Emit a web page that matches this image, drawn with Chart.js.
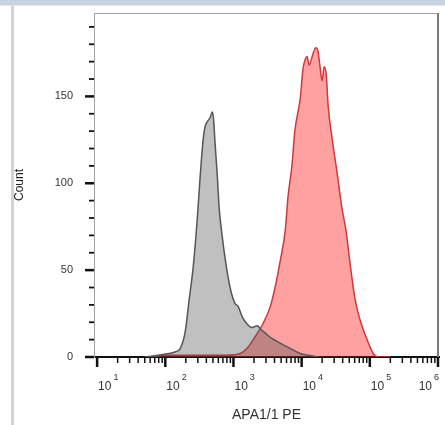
<!DOCTYPE html>
<html>
<head>
<meta charset="utf-8">
<script src="https://cdn.jsdelivr.net/npm/chart.js@4.4.1/dist/chart.umd.min.js"></script>
<style>
  body { margin: 0; background: #fff; }
  #wrap { position: relative; width: 445px; height: 425px; overflow: hidden; }
  #band { position: absolute; left: 0; top: 0; width: 445px; height: 5px; background: #c9d2e0; }
  #band2 { position: absolute; left: 0; top: 5px; width: 445px; height: 1px; background: #e4e4e4; }
  #side { position: absolute; left: 11px; top: 6px; width: 3px; height: 419px; background: #d3d3d3; }
  canvas { position: absolute; left: 0; top: 0; }
</style>
</head>
<body>
<div id="wrap">
  <canvas id="histChart" width="445" height="425"></canvas>
  <div id="band"></div>
  <div id="band2"></div>
  <div id="side"></div>
</div>
<script>
// histogram data, x given as log10 of APA1/1 PE intensity
const grayExp = [1.70, 1.90, 2.05, 2.15, 2.22, 2.29, 2.35, 2.41, 2.47, 2.51, 2.55, 2.58, 2.61, 2.66, 2.69, 2.71, 2.73, 2.76, 2.79, 2.83, 2.88, 2.95, 3.02, 3.07, 3.13, 3.20, 3.27, 3.35, 3.40, 3.46, 3.55, 3.64, 3.73, 3.83, 3.98, 4.10, 4.25]
const grayCount = [0, 1, 2, 3, 5, 14, 33, 52, 80, 103, 123, 132, 135, 138, 141, 136, 123, 106, 86, 71, 56, 40, 31, 29, 23, 19, 17, 18, 16, 14, 11, 9, 7, 5, 2, 1, 0]

const redExp = [1.80, 1.95, 2.50, 2.90, 3.10, 3.20, 3.29, 3.43, 3.54, 3.61, 3.68, 3.76, 3.80, 3.86, 3.90, 3.98, 4.02, 4.05, 4.08, 4.11, 4.17, 4.21, 4.24, 4.27, 4.30, 4.33, 4.36, 4.39, 4.45, 4.52, 4.59, 4.65, 4.71, 4.78, 4.86, 4.96, 5.05, 5.12, 5.30]
const redCount = [0, 1, 1, 1, 2, 5, 10, 19, 29, 40, 54, 73, 92, 111, 130, 149, 166, 171, 173, 168, 175, 178, 176, 167, 159, 167, 163, 144, 125, 106, 86, 73, 54, 34, 21, 10, 2, 0, 0]

// axis ticks
const xDecades = [1, 2, 3, 4, 5, 6]
const xMinorSteps = [2, 3, 4, 5, 6, 7, 8, 9]
const yTicks = [0, 10, 20, 30, 40, 50, 60, 70, 80, 90, 100, 110, 120, 130, 140, 150, 160, 170, 180, 190]
const yLabelled = [0, 50, 100, 150]

const toPoints = (exps, counts) => exps.map((e, i) => ({ x: Math.pow(10, e), y: counts[i] }))

// ticks and 10^n labels drawn from the scales
const axisMarks = {
  id: 'axisMarks',
  afterDraw(chart) {
    const { ctx, chartArea: a, scales: { x, y } } = chart
    ctx.save()

    // frame top and right
    ctx.strokeStyle = '#a0a0a0'
    ctx.lineWidth = 1
    ctx.beginPath()
    ctx.moveTo(a.left, a.top + 0.5)
    ctx.lineTo(a.right, a.top + 0.5)
    ctx.stroke()
    ctx.strokeStyle = '#7a7a7a'
    ctx.lineWidth = 2
    ctx.beginPath()
    ctx.moveTo(a.right - 1, a.top)
    ctx.lineTo(a.right - 1, a.bottom)
    ctx.stroke()

    // x ticks
    ctx.strokeStyle = '#111'
    x.ticks.forEach((t) => {
      const px = x.getPixelForValue(t.value)
      ctx.lineWidth = t.major ? 2.5 : 1.5
      ctx.beginPath()
      ctx.moveTo(px, a.bottom)
      ctx.lineTo(px, a.bottom + (t.major ? 10 : 6))
      ctx.stroke()
    })

    // y ticks
    y.ticks.forEach((t) => {
      const py = y.getPixelForValue(t.value)
      const major = yLabelled.includes(t.value)
      ctx.lineWidth = major ? 2.5 : 1.8
      ctx.beginPath()
      ctx.moveTo(a.left - (major ? 9 : 5), py)
      ctx.lineTo(a.left, py)
      ctx.stroke()
    })

    // x labels: 10 with raised exponent
    ctx.fillStyle = '#333'
    ctx.textBaseline = 'middle'
    ctx.textAlign = 'left'
    xDecades.forEach((n) => {
      const px = x.getPixelForValue(Math.pow(10, n))
      ctx.font = '12px "Liberation Sans", Arial, sans-serif'
      const wBase = ctx.measureText('10').width
      ctx.font = '9px "Liberation Sans", Arial, sans-serif'
      const wExp = ctx.measureText(String(n)).width
      const total = wBase + 2 + wExp
      let left = px + 1
      if (left + total > a.right) left = a.right - total
      ctx.font = '12px "Liberation Sans", Arial, sans-serif'
      ctx.fillText('10', left, a.bottom + 30)
      ctx.font = '9px "Liberation Sans", Arial, sans-serif'
      ctx.fillText(String(n), left + wBase + 2, a.bottom + 21)
    })
    ctx.restore()
  },
}

const ctx = document.getElementById('histChart').getContext('2d')

window.histChartInstance = new Chart(ctx, {
  type: 'line',
  data: {
    datasets: [
      {
        label: 'Isotype',
        data: toPoints(grayExp, grayCount),
        borderColor: '#555555',
        backgroundColor: 'rgba(74, 74, 74, 0.35)',
        borderWidth: 1.5,
        pointRadius: 0,
        fill: 'origin',
        cubicInterpolationMode: 'monotone',
      },
      {
        label: 'APA1/1 PE',
        data: toPoints(redExp, redCount),
        borderColor: '#cc3a3f',
        backgroundColor: 'rgba(255, 0, 0, 0.37)',
        borderWidth: 1.5,
        pointRadius: 0,
        fill: 'origin',
        cubicInterpolationMode: 'monotone',
      },
    ],
  },
  options: {
    responsive: false,
    animation: false,
    layout: { padding: { top: 13, right: 6, left: 0, bottom: 0 } },
    scales: {
      x: {
        type: 'logarithmic',
        min: 9,
        max: 1035000,
        afterBuildTicks: (scale) => {
          const ticks = []
          xDecades.forEach((n) => {
            ticks.push({ value: Math.pow(10, n), major: true })
            if (n < 6) xMinorSteps.forEach((k) => ticks.push({ value: k * Math.pow(10, n), major: false }))
          })
          scale.ticks = ticks
        },
        afterFit: (scale) => {
          scale.height = 68
          scale.paddingLeft = 0
          scale.paddingRight = 0
        },
        grid: { display: false, drawTicks: false },
        border: { display: true, color: '#111', width: 2 },
        ticks: { display: false },
        title: {
          display: true,
          text: 'APA1/1 PE',
          color: '#333',
          font: { size: 14, family: '"Liberation Sans", Arial, sans-serif' },
          padding: { top: 0, bottom: 1 },
        },
      },
      y: {
        min: 0,
        max: 198,
        afterBuildTicks: (scale) => {
          scale.ticks = yTicks.map((v) => ({ value: v }))
        },
        afterFit: (scale) => {
          scale.width = 94
          scale.paddingTop = 0
          scale.paddingBottom = 0
        },
        grid: { display: false, drawTicks: false },
        border: { display: true, color: '#a0a0a0', width: 1 },
        ticks: {
          autoSkip: false,
          padding: 21,
          color: '#333',
          font: { size: 11, family: '"Liberation Sans", Arial, sans-serif' },
          callback: (v) => (yLabelled.includes(v) ? String(v) : ''),
        },
        title: {
          display: true,
          text: 'Count',
          color: '#222',
          font: { size: 12, family: '"Liberation Sans", Arial, sans-serif' },
          padding: { top: 12, bottom: 0 },
        },
      },
    },
    plugins: {
      legend: { display: false },
      tooltip: { enabled: false },
    },
  },
  plugins: [axisMarks],
})
</script>
</body>
</html>
